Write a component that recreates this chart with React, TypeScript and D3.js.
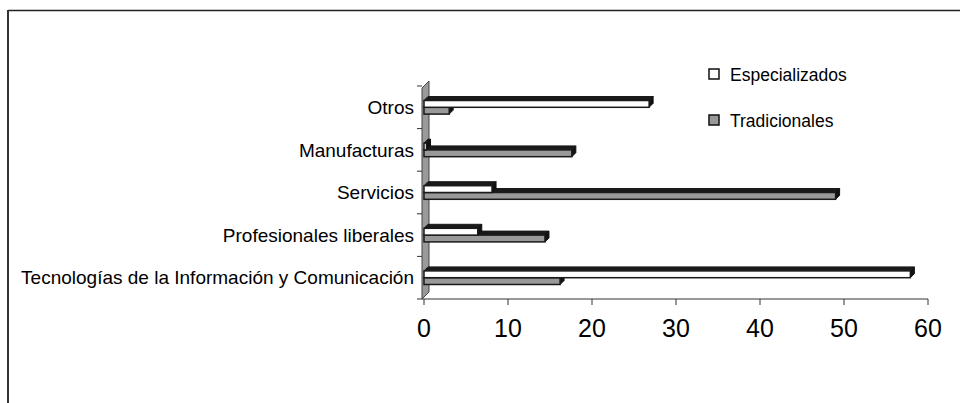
import React from "react";
import * as d3 from "d3";

const categories = [
  "Otros",
  "Manufacturas",
  "Servicios",
  "Profesionales liberales",
  "Tecnologías de la Información y Comunicación",
];
const especializados = [26.8, 0.3, 8.1, 6.4, 57.9];
const tradicionales = [3, 17.6, 49, 14.4, 16.2];
const xTicks = [0, 10, 20, 30, 40, 50, 60];
const seriesNames = ["Especializados", "Tradicionales"];

const W = 960;
const H = 403;
const FONT = "Arial, 'Liberation Sans', sans-serif";

export default function App() {
  const x = d3.scaleLinear().domain([0, 60]).range([424, 928]);
  const y = d3.scaleBand<string>().domain(categories).range([86, 299]);
  const barH = 6.8;
  const d = 4;
  const wallD = 7;
  const x0 = x(0);
  const yBottom = 299;
  const yTop = 86;

  const bar = (v: number, yy: number, fill: string, key: string) => {
    const x1 = x(v);
    return (
      <g key={key}>
        <polygon
          points={`${x0},${yy} ${x0 + d},${yy - d} ${x1 + d},${yy - d} ${x1},${yy}`}
          fill="#1a1a1a"
          stroke="#1a1a1a"
          strokeWidth={1}
          strokeLinejoin="round"
        />
        <polygon
          points={`${x1},${yy} ${x1 + d},${yy - d} ${x1 + d},${yy + barH - d} ${x1},${yy + barH}`}
          fill="#111"
          stroke="#111"
          strokeWidth={1}
          strokeLinejoin="round"
        />
        <rect
          x={x0}
          y={yy}
          width={Math.max(0, x1 - x0)}
          height={barH}
          fill={fill}
          stroke="#1a1a1a"
          strokeWidth={1.5}
        />
      </g>
    );
  };

  return (
    <svg width={W} height={H} style={{ position: "absolute", left: 0, top: 0 }}>
      <rect x={0} y={0} width={W} height={H} fill="#fff" />
      {/* chart frame */}
      <line x1={8} y1={10.5} x2={W} y2={10.5} stroke="#222" strokeWidth={1.5} />
      <line x1={8} y1={10} x2={8} y2={H} stroke="#333" strokeWidth={2} />

      {/* side wall */}
      <polygon
        points={`${x0 - 2},${yBottom} ${x0 - 2},${yTop + 2} ${x0 - 2 + wallD},${yTop + 2 - wallD} ${x0 - 2 + wallD},${yBottom - wallD}`}
        fill="#9a9a9a"
        stroke="#444"
        strokeWidth={1}
      />

      {/* category ticks */}
      {categories.map((c) => (
        <line key={"t" + c} x1={417} x2={x0 - 2} y1={y(c)!} y2={y(c)!} stroke="#333" strokeWidth={1} />
      ))}

      {/* x axis */}
      <line x1={417} x2={x(60)} y1={yBottom} y2={yBottom} stroke="#333" strokeWidth={1} />
      {xTicks.map((t) => (
        <g key={"x" + t}>
          <line x1={x(t)} x2={x(t)} y1={yBottom} y2={yBottom + 6} stroke="#333" strokeWidth={1} />
          <text
            x={x(t)}
            y={yBottom + 29}
            dy="0.35em"
            textAnchor="middle"
            fontFamily={FONT}
            fontSize={25}
            fill="#000"
          >
            {t}
          </text>
        </g>
      ))}

      {/* bars */}
      {categories.map((c, i) => {
        const band = y(c)!;
        const center = band + y.bandwidth() / 2;
        const yEsp = center - barH;
        const yTrad = center;
        return (
          <g key={"b" + c}>
            {bar(tradicionales[i], yTrad, "#999", "tr" + i)}
            {bar(especializados[i], yEsp, "#fff", "es" + i)}
          </g>
        );
      })}

      {/* category labels */}
      {categories.map((c) => (
        <text
          key={"l" + c}
          x={414}
          y={y(c)! + y.bandwidth() / 2}
          dy="0.35em"
          textAnchor="end"
          fontFamily={FONT}
          fontSize={19}
          fill="#000"
        >
          {c}
        </text>
      ))}

      {/* legend */}
      {seriesNames.map((s, i) => (
        <g key={"lg" + s} transform={`translate(709, ${69 + i * 46})`}>
          <rect x={0} y={0} width={10} height={10} fill={i === 0 ? "#fff" : "#999"} stroke="#111" strokeWidth={1.5} />
          <text x={21} y={6} dy="0.35em" fontFamily={FONT} fontSize={17.5} fill="#000">
            {s}
          </text>
        </g>
      ))}
    </svg>
  );
}
